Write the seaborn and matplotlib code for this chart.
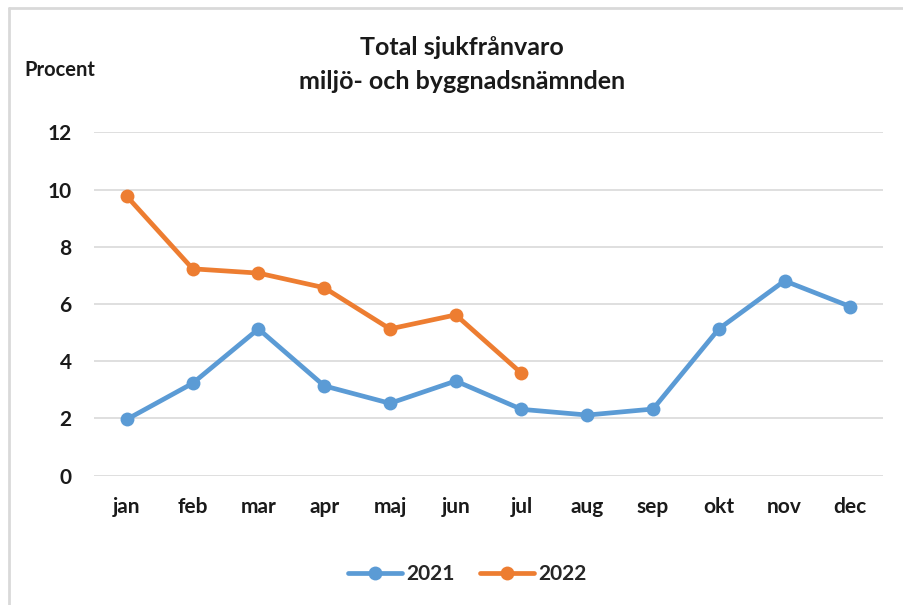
import matplotlib
matplotlib.use("Agg")
import matplotlib.pyplot as plt
import seaborn as sns
import pandas as pd
from matplotlib.lines import Line2D

months = ["jan", "feb", "mar", "apr", "maj", "jun", "jul", "aug", "sep", "okt", "nov", "dec"]
values_2021 = [1.97, 3.23, 5.13, 3.14, 2.53, 3.31, 2.32, 2.12, 2.33, 5.13, 6.81, 5.91]
values_2022 = [9.76, 7.23, 7.08, 6.57, 5.13, 5.62, 3.58]
years = ["2021", "2022"]
colors = ["#5B9BD5", "#ED7D31"]

sns.set_theme(style="white")
plt.rcParams["font.family"] = ["Lato", "DejaVu Sans"]
plt.rcParams["font.weight"] = "bold"

df = pd.concat([
    pd.DataFrame({"month": months, "value": values_2021, "year": years[0]}),
    pd.DataFrame({"month": months[:len(values_2022)], "value": values_2022, "year": years[1]}),
])

fig = plt.figure(figsize=(9.04, 6.05), dpi=100)
ax = fig.add_axes([0.104, 0.2137, 0.873, 0.5676])

sns.lineplot(data=df, x="month", y="value", hue="year", palette=colors,
             marker="o", markersize=10, markeredgewidth=0, linewidth=3.4,
             sort=False, ax=ax, legend=True)

ax.set_xlim(-0.5, len(months) - 0.5)
ax.set_ylim(0, 12)
ax.set_yticks(range(0, 13, 2))
ax.yaxis.grid(True, color="#D9D9D9", linewidth=1.2)
ax.xaxis.grid(False)
for s in ax.spines.values():
    s.set_visible(False)
ax.set_xlabel("")
ax.set_ylabel("")
ax.tick_params(axis="both", length=0, labelsize=15, colors="#1a1a1a")
ax.tick_params(axis="x", pad=15)
ax.tick_params(axis="y", pad=16)
for lab in ax.get_xticklabels() + ax.get_yticklabels():
    lab.set_fontweight("bold")

handles, labels = ax.get_legend_handles_labels()
ax.legend(handles, labels, loc="center", bbox_to_anchor=(0.517, 0.051),
          bbox_transform=fig.transFigure, ncol=2, frameon=False,
          handlelength=2.6, handletextpad=0.2, columnspacing=1.2,
          prop={"weight": "bold", "size": 15})

fig.text(0.511, 0.922, "Total sjukfrånvaro", ha="center", va="center",
         fontsize=18, fontweight="bold", color="#1a1a1a")
fig.text(0.511, 0.866, "miljö- och byggnadsnämnden", ha="center", va="center",
         fontsize=18, fontweight="bold", color="#1a1a1a")
fig.text(0.027, 0.884, "Procent", ha="left", va="center",
         fontsize=14.5, fontweight="bold", color="#1a1a1a")

# partial frame (top and left edges)
fig.add_artist(Line2D([0.01, 1.0], [0.987, 0.987], color="#D9D9D9", linewidth=2,
                      transform=fig.transFigure))
fig.add_artist(Line2D([0.01, 0.01], [0.0, 0.987], color="#D9D9D9", linewidth=2,
                      transform=fig.transFigure))

fig.savefig("out.png", dpi=100)
